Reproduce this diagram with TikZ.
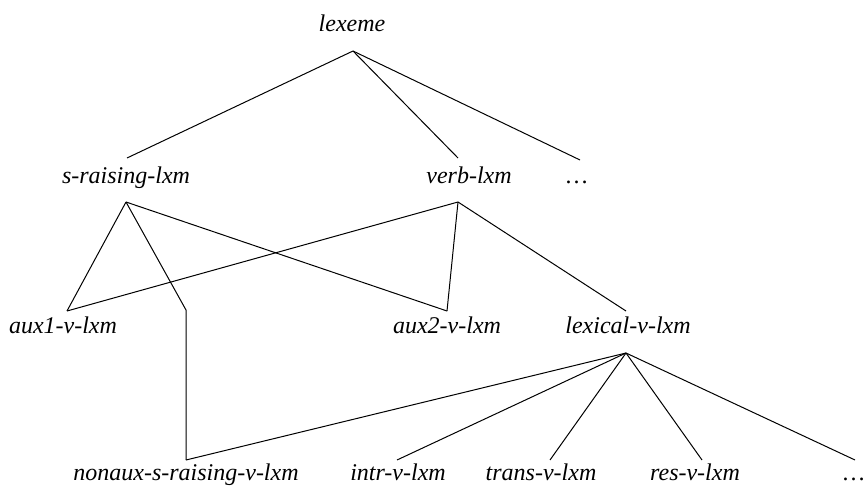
\documentclass[tikz,border=0pt]{standalone}
\usepackage{fontspec}
\setmainfont{Liberation Serif}[ItalicFont={Liberation Serif Italic}]

\begin{document}
\begin{tikzpicture}[x=0.5pt,y=-0.5pt,
		type/.style={font=\fontsize{12}{14}\selectfont\itshape,anchor=base,inner sep=0pt},
		link/.style={draw,line width=0.5pt}]
	\useasboundingbox (0,0) rectangle (865,486);

	% types
	\node[type] (lexeme) at (352,32) {lexeme};
	\node[type] (srais) at (126,184) {s-raising-lxm};
	\node[type] (verb) at (469,184) {verb-lxm};
	\node[type] (more) at (577,184) {\dots};
	\node[type] (aux1) at (63,333) {aux1-v-lxm};
	\node[type] (aux2) at (447,333) {aux2-v-lxm};
	\node[type] (lexical) at (628,333) {lexical-v-lxm};
	\node[type] (nonaux) at (186,480) {nonaux-s-raising-v-lxm};
	\node[type] (intr) at (398,480) {intr-v-lxm};
	\node[type] (trans) at (541,480) {trans-v-lxm};
	\node[type] (res) at (695,480) {res-v-lxm};
	\node[type] (rest) at (854,480) {\dots};

	% ends of the links
	\coordinate (lexeme-b) at (353,51);
	\coordinate (srais-t) at (127,158);
	\coordinate (verb-t) at (458,158);
	\coordinate (more-t) at (580,160);
	\coordinate (srais-b) at (126,202);
	\coordinate (verb-b) at (458,202);
	\coordinate (aux1-t) at (67,311);
	\coordinate (aux2-t) at (447,311);
	\coordinate (lexical-t) at (626,311);
	\coordinate (bend) at (186,310);
	\coordinate (lexical-b) at (626,353);
	\coordinate (nonaux-t) at (186,460);
	\coordinate (intr-t) at (397,460);
	\coordinate (trans-t) at (550,460);
	\coordinate (res-t) at (702,460);
	\coordinate (rest-t) at (855,460);

	\draw[link] (lexeme-b) -- (srais-t);
	\draw[link] (lexeme-b) -- (verb-t);
	\draw[link] (lexeme-b) -- (more-t);
	\draw[link] (srais-b) -- (aux1-t);
	\draw[link] (srais-b) -- (aux2-t);
	\draw[link] (srais-b) -- (bend) -- (nonaux-t);
	\draw[link] (verb-b) -- (aux1-t);
	\draw[link] (verb-b) -- (aux2-t);
	\draw[link] (verb-b) -- (lexical-t);
	\draw[link] (lexical-b) -- (nonaux-t);
	\draw[link] (lexical-b) -- (intr-t);
	\draw[link] (lexical-b) -- (trans-t);
	\draw[link] (lexical-b) -- (res-t);
	\draw[link] (lexical-b) -- (rest-t);
\end{tikzpicture}
\end{document}
